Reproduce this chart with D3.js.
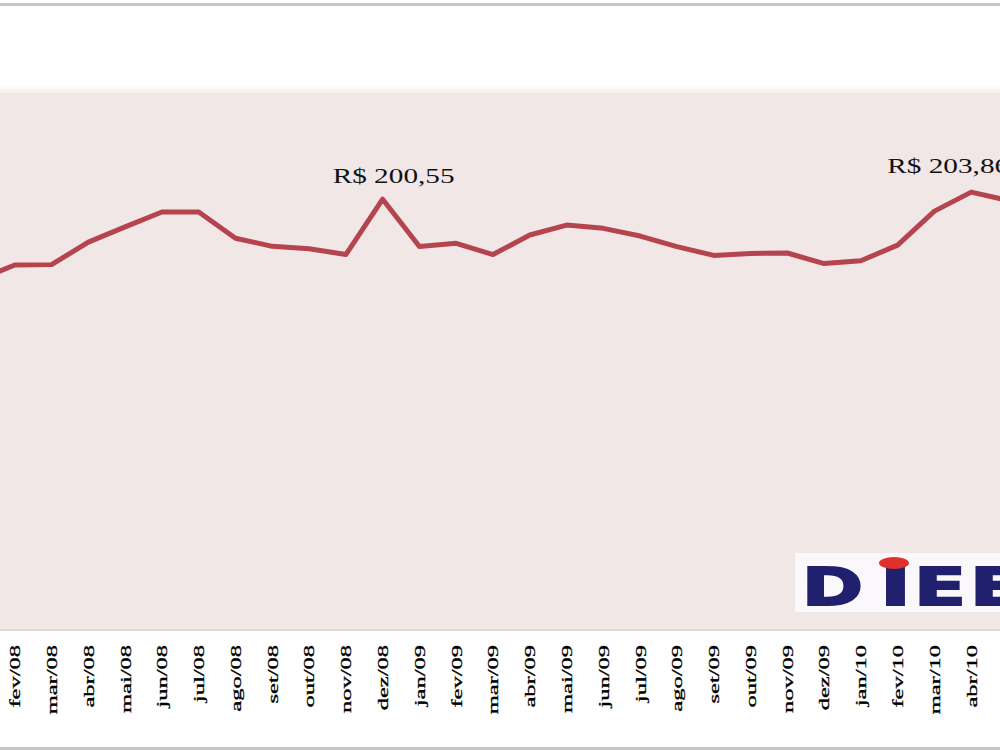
<!DOCTYPE html>
<html>
<head>
<meta charset="utf-8">
<script src="https://cdn.jsdelivr.net/npm/d3@7"></script>
<style>
  body { margin: 0; background: #fff; }
  svg { display: block; }
</style>
</head>
<body>
<div id="container"></div>
<script>
// months (the picture is a crop: jan/08 and mai/10 fall just outside)
const months = ["jan/08", "fev/08", "mar/08", "abr/08", "mai/08", "jun/08", "jul/08",
  "ago/08", "set/08", "out/08", "nov/08", "dez/08", "jan/09", "fev/09", "mar/09",
  "abr/09", "mai/09", "jun/09", "jul/09", "ago/09", "set/09", "out/09", "nov/09",
  "dez/09", "jan/10", "fev/10", "mar/10", "abr/10", "mai/10"];
const values = [163.0, 169.9, 170.1, 180.6, 187.7, 194.6, 194.6,
  182.4, 178.6, 177.5, 174.8, 200.55, 178.5, 180.0, 174.8,
  183.9, 188.5, 187.0, 183.4, 178.5, 174.4, 175.3, 175.5,
  170.6, 171.9, 179.2, 195.0, 203.86, 200.0];
const labelMonths = ["dez/08", "abr/10"];
const labelTexts = ["R$ 200,55", "R$ 203,86"];

const width = 1000;
const height = 750;
renderChart(d3.select("#container").node(), width, height);

function renderChart(rootElem, width, height) {
  // layout
  const plotTop = 93;
  const plotBottom = 630;
  const labelDx = [-50, -84];
  const labelDy = [-16, -19];

  const svg = d3.select(rootElem)
    .append("svg")
    .attr("width", width)
    .attr("height", height);

  const defs = svg.append("defs");
  const grad = defs.append("linearGradient")
    .attr("id", "topFade")
    .attr("x1", 0).attr("y1", 0).attr("x2", 0).attr("y2", 1);
  grad.append("stop").attr("offset", 0).attr("stop-color", "#ffffff");
  grad.append("stop").attr("offset", 1).attr("stop-color", "#f7f0ee");

  // scales
  const scaleX = d3.scalePoint()
    .domain(months)
    .range([-22, 1008]);
  const scaleY = d3.scaleLinear()
    .domain([0, 250])
    .range([plotBottom, plotTop]);

  // background and frame
  svg.append("rect")
    .attr("width", width).attr("height", height)
    .attr("fill", "#ffffff");
  svg.append("rect")
    .attr("x", 0).attr("y", 84).attr("width", width).attr("height", plotTop - 84)
    .attr("fill", "url(#topFade)");
  svg.append("rect")
    .attr("x", 0).attr("y", plotTop).attr("width", width).attr("height", plotBottom - plotTop)
    .attr("fill", "#f2e7e7");
  svg.append("line")
    .attr("x1", 0).attr("x2", width).attr("y1", plotBottom).attr("y2", plotBottom)
    .attr("stroke", "#e2d6d8").attr("stroke-width", 2);
  svg.append("line")
    .attr("x1", 0).attr("x2", width).attr("y1", 4.5).attr("y2", 4.5)
    .attr("stroke", "#c6c6c6").attr("stroke-width", 3);
  svg.append("line")
    .attr("x1", 0).attr("x2", width).attr("y1", 748.5).attr("y2", 748.5)
    .attr("stroke", "#c6c6c6").attr("stroke-width", 3);

  // logo
  const groupLogo = svg.append("g").attr("class", "groupLogo");
  groupLogo.append("rect")
    .attr("x", 795).attr("y", 553).attr("width", 205).attr("height", 59)
    .attr("fill", "#faf8fb");
  const letters = [["D", 802, 61], ["I", 880, 31], ["E", 914, 52], ["E", 970, 52], ["S", 1026, 52]];
  groupLogo.selectAll("text")
    .data(letters)
    .join("text")
    .attr("x", d => d[1])
    .attr("y", 605)
    .attr("textLength", d => d[2])
    .attr("lengthAdjust", "spacingAndGlyphs")
    .attr("fill", "#20206e")
    .attr("stroke", "#20206e")
    .attr("stroke-width", 2)
    .style("font-family", "DejaVu Sans, sans-serif")
    .style("font-weight", "bold")
    .style("font-size", "51px")
    .text(d => d[0]);
  groupLogo.append("ellipse")
    .attr("cx", 894).attr("cy", 563).attr("rx", 15).attr("ry", 6)
    .attr("fill", "#e0302a");

  // x axis
  const groupAxisX = svg.append("g")
    .attr("class", "groupAxisX")
    .attr("transform", `translate(0, ${plotBottom})`);
  groupAxisX.call(d3.axisBottom(scaleX).tickSize(0))
    .call(g => {
      g.select(".domain").remove();
      g.selectAll(".tick text")
        .attr("x", 0)
        .attr("y", 0)
        .attr("dy", "0.35em")
        .attr("transform", "translate(0, 15) rotate(-90) scale(1.75, 1)")
        .attr("text-anchor", "end")
        .attr("fill", "#000")
        .attr("stroke", "#000")
        .attr("stroke-width", 0.3)
        .style("font-family", "Liberation Serif, serif")
        .style("font-size", "14px");
    });

  // line
  const line = d3.line()
    .x((d, i) => scaleX(months[i]))
    .y(d => scaleY(d));
  svg.append("path")
    .datum(values)
    .attr("fill", "none")
    .attr("stroke", "#b5444f")
    .attr("stroke-width", 5)
    .attr("stroke-linejoin", "round")
    .attr("d", line);

  // value labels
  svg.selectAll(".valueLabel")
    .data(labelMonths)
    .join("text")
    .attr("class", "valueLabel")
    .attr("x", (d, i) => scaleX(d) + labelDx[i])
    .attr("y", (d, i) => scaleY(values[months.indexOf(d)]) + labelDy[i])
    .attr("textLength", 122)
    .attr("lengthAdjust", "spacingAndGlyphs")
    .attr("fill", "#111")
    .style("font-family", "Liberation Serif, serif")
    .style("font-size", "21px")
    .text((d, i) => labelTexts[i]);
}
</script>
</body>
</html>
